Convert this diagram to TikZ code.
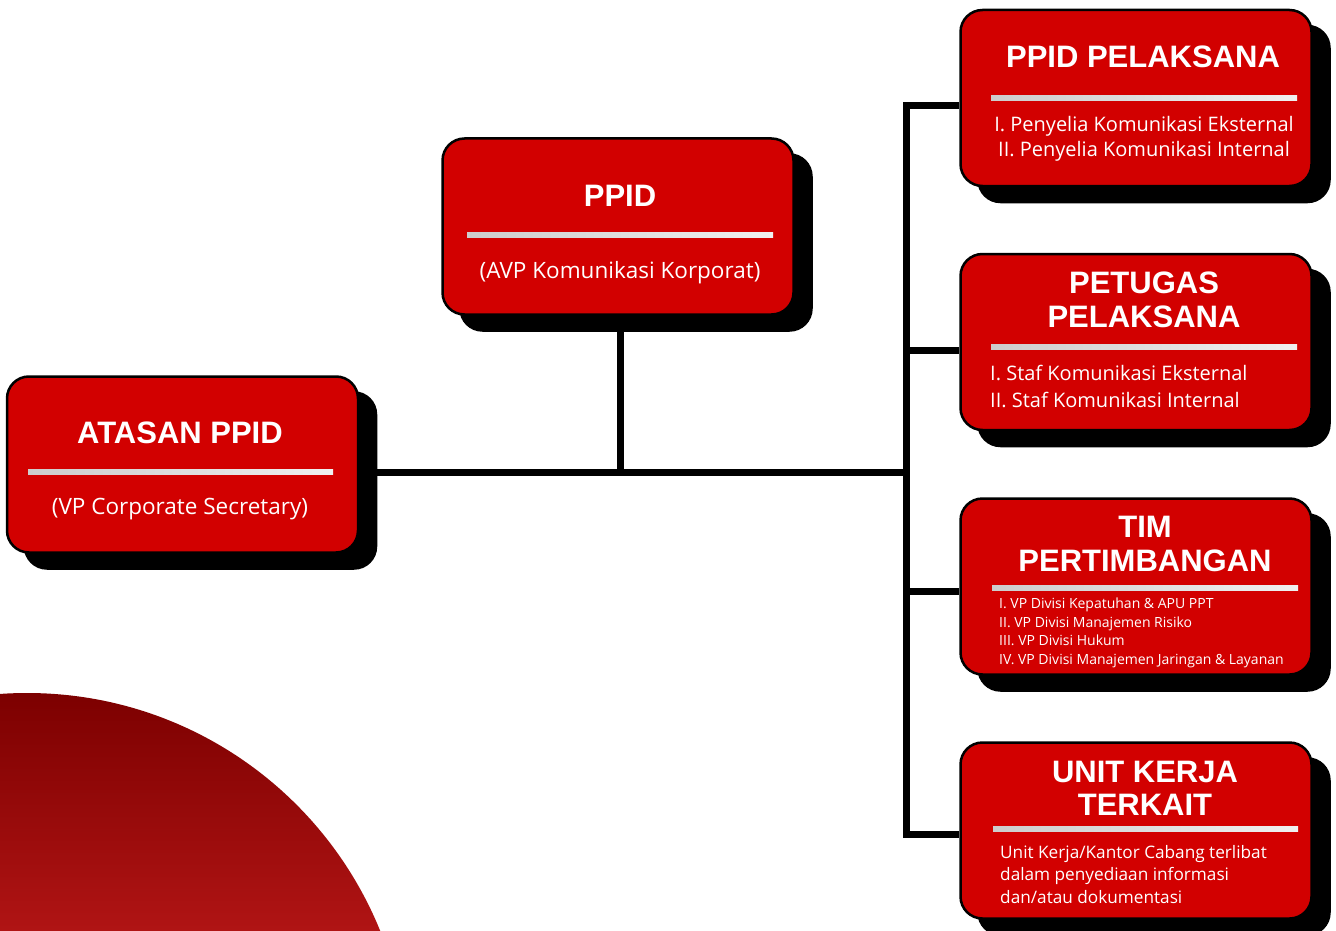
\documentclass[tikz,border=0pt]{standalone}
\usepackage{fontspec}
\setmainfont{Liberation Sans}
\newfontfamily\bodyfont{Open Sans}
\definecolor{cardred}{RGB}{210,0,0}
\definecolor{divl}{RGB}{205,205,205}
\definecolor{divr}{RGB}{240,240,240}
\definecolor{circtop}{RGB}{124,0,0}
\definecolor{circbot}{RGB}{176,20,20}
\tikzset{
  card/.style={rectangle, rounded corners=22pt, fill=cardred, draw=black, line width=2.5pt,
    minimum width=351pt, minimum height=176pt, inner sep=0pt},
  cardshadow/.style={rectangle, rounded corners=22pt, fill=black, draw=black, line width=2.5pt,
    minimum width=351pt, minimum height=176pt, inner sep=0pt},
  conn/.style={line width=7pt, draw=black, line join=miter},
  ttl/.style={text=white, font=\fontsize{31}{34}\selectfont\bfseries, inner sep=0pt, anchor=base, align=center},
  bodyc/.style={text=white, font=\bodyfont\fontsize{20}{25}\selectfont, inner sep=0pt, anchor=base, align=center},
  bodyl/.style={text=white, inner sep=0pt, anchor=base west, align=left},
}
\newcommand{\divider}[3]{\shade[left color=divl, right color=divr] (#1,#3-2.5) rectangle (#2,#3+2.5);}
\begin{document}
\begin{tikzpicture}[x=1pt,y=-1pt]
\useasboundingbox (0,0) rectangle (1336,931);
\fill[white] (0,0) rectangle (1336,931);
% decorative quarter circle
\begin{scope}
  \clip (27,1074) circle (381);
  \shade[top color=circtop, bottom color=circbot] (0,690) rectangle (420,931);
\end{scope}
% shadows
\node[cardshadow] (atasansh) at (200.5,480.5) {};
\node[cardshadow] (ppidsh) at (636,242.5) {};
\node[cardshadow] (pelsh) at (1154,114) {};
\node[cardshadow] (petsh) at (1154,358) {};
\node[cardshadow] (timsh) at (1154,602.5) {};
\node[cardshadow] (unitsh) at (1154,846.5) {};
% connectors
\coordinate (j1) at (906,106);
\coordinate (j2) at (906,350);
\coordinate (hub) at (906,472);
\coordinate (j3) at (906,591);
\coordinate (j4) at (906,834);
\coordinate (pj) at (620,472);
% cards
\node[card] (atasan) at (182.5,464.5) {};
\node[card] (ppid) at (618,226.5) {};
\node[card] (pel) at (1136,98) {};
\node[card] (pet) at (1136,342) {};
\node[card] (tim) at (1136,586.5) {};
\node[card] (unit) at (1136,830.5) {};
\draw[conn] (pel.west |- j1) -- (j1) -- (j4) -- (unit.west |- j4);
\draw[conn] (j2) -- (pet.west |- j2);
\draw[conn] (j3) -- (tim.west |- j3);
\draw[conn] (atasansh.east |- hub) -- (hub);
\draw[conn] (pj |- ppidsh.south) -- (pj);
% dividers
\divider{28}{333}{472}
\divider{467}{773}{235}
\divider{991}{1297}{98}
\divider{991}{1297}{347}
\divider{992}{1298}{588}
\divider{993}{1298}{829}
% texts (multi-line nodes: base = last line)
\node[ttl] (atasant) at (180,443) {ATASAN PPID};
\node[bodyc, font=\bodyfont\fontsize{22.5}{25}\selectfont] (atasanb) at (180,514) {(VP Corporate Secretary)};
\node[ttl] (ppidt) at (620,206) {PPID};
\node[bodyc, font=\bodyfont\fontsize{22.5}{25}\selectfont] (ppidb) at (620,278) {(AVP Komunikasi Korporat)};
\node[ttl] (pelt) at (1143,68) {PPID PELAKSANA};
\node[bodyc] (pelb) at (1144,157) {I. Penyelia Komunikasi Eksternal\\II. Penyelia Komunikasi Internal};
\node[ttl] (pett) at (1144,327) {PETUGAS\\PELAKSANA};
\node[bodyl, font=\bodyfont\fontsize{20}{27}\selectfont] (petb) at (990,407) {I. Staf Komunikasi Eksternal\\II. Staf Komunikasi Internal};
\node[ttl] (timt) at (1145,571) {TIM\\PERTIMBANGAN};
\node[bodyl, font=\bodyfont\fontsize{14}{18.4}\selectfont] (timb) at (999,664) {I. VP Divisi Kepatuhan \& APU PPT\\II. VP Divisi Manajemen Risiko\\III. VP Divisi Hukum\\IV. VP Divisi Manajemen Jaringan \& Layanan};
\node[ttl, font=\fontsize{31}{33}\selectfont\bfseries] (unitt) at (1145,815) {UNIT KERJA\\TERKAIT};
\node[bodyl, font=\bodyfont\fontsize{17.2}{22.5}\selectfont] (unitb) at (1000,903) {Unit Kerja/Kantor Cabang terlibat\\dalam penyediaan informasi\\dan/atau dokumentasi};
\end{tikzpicture}
\end{document}
